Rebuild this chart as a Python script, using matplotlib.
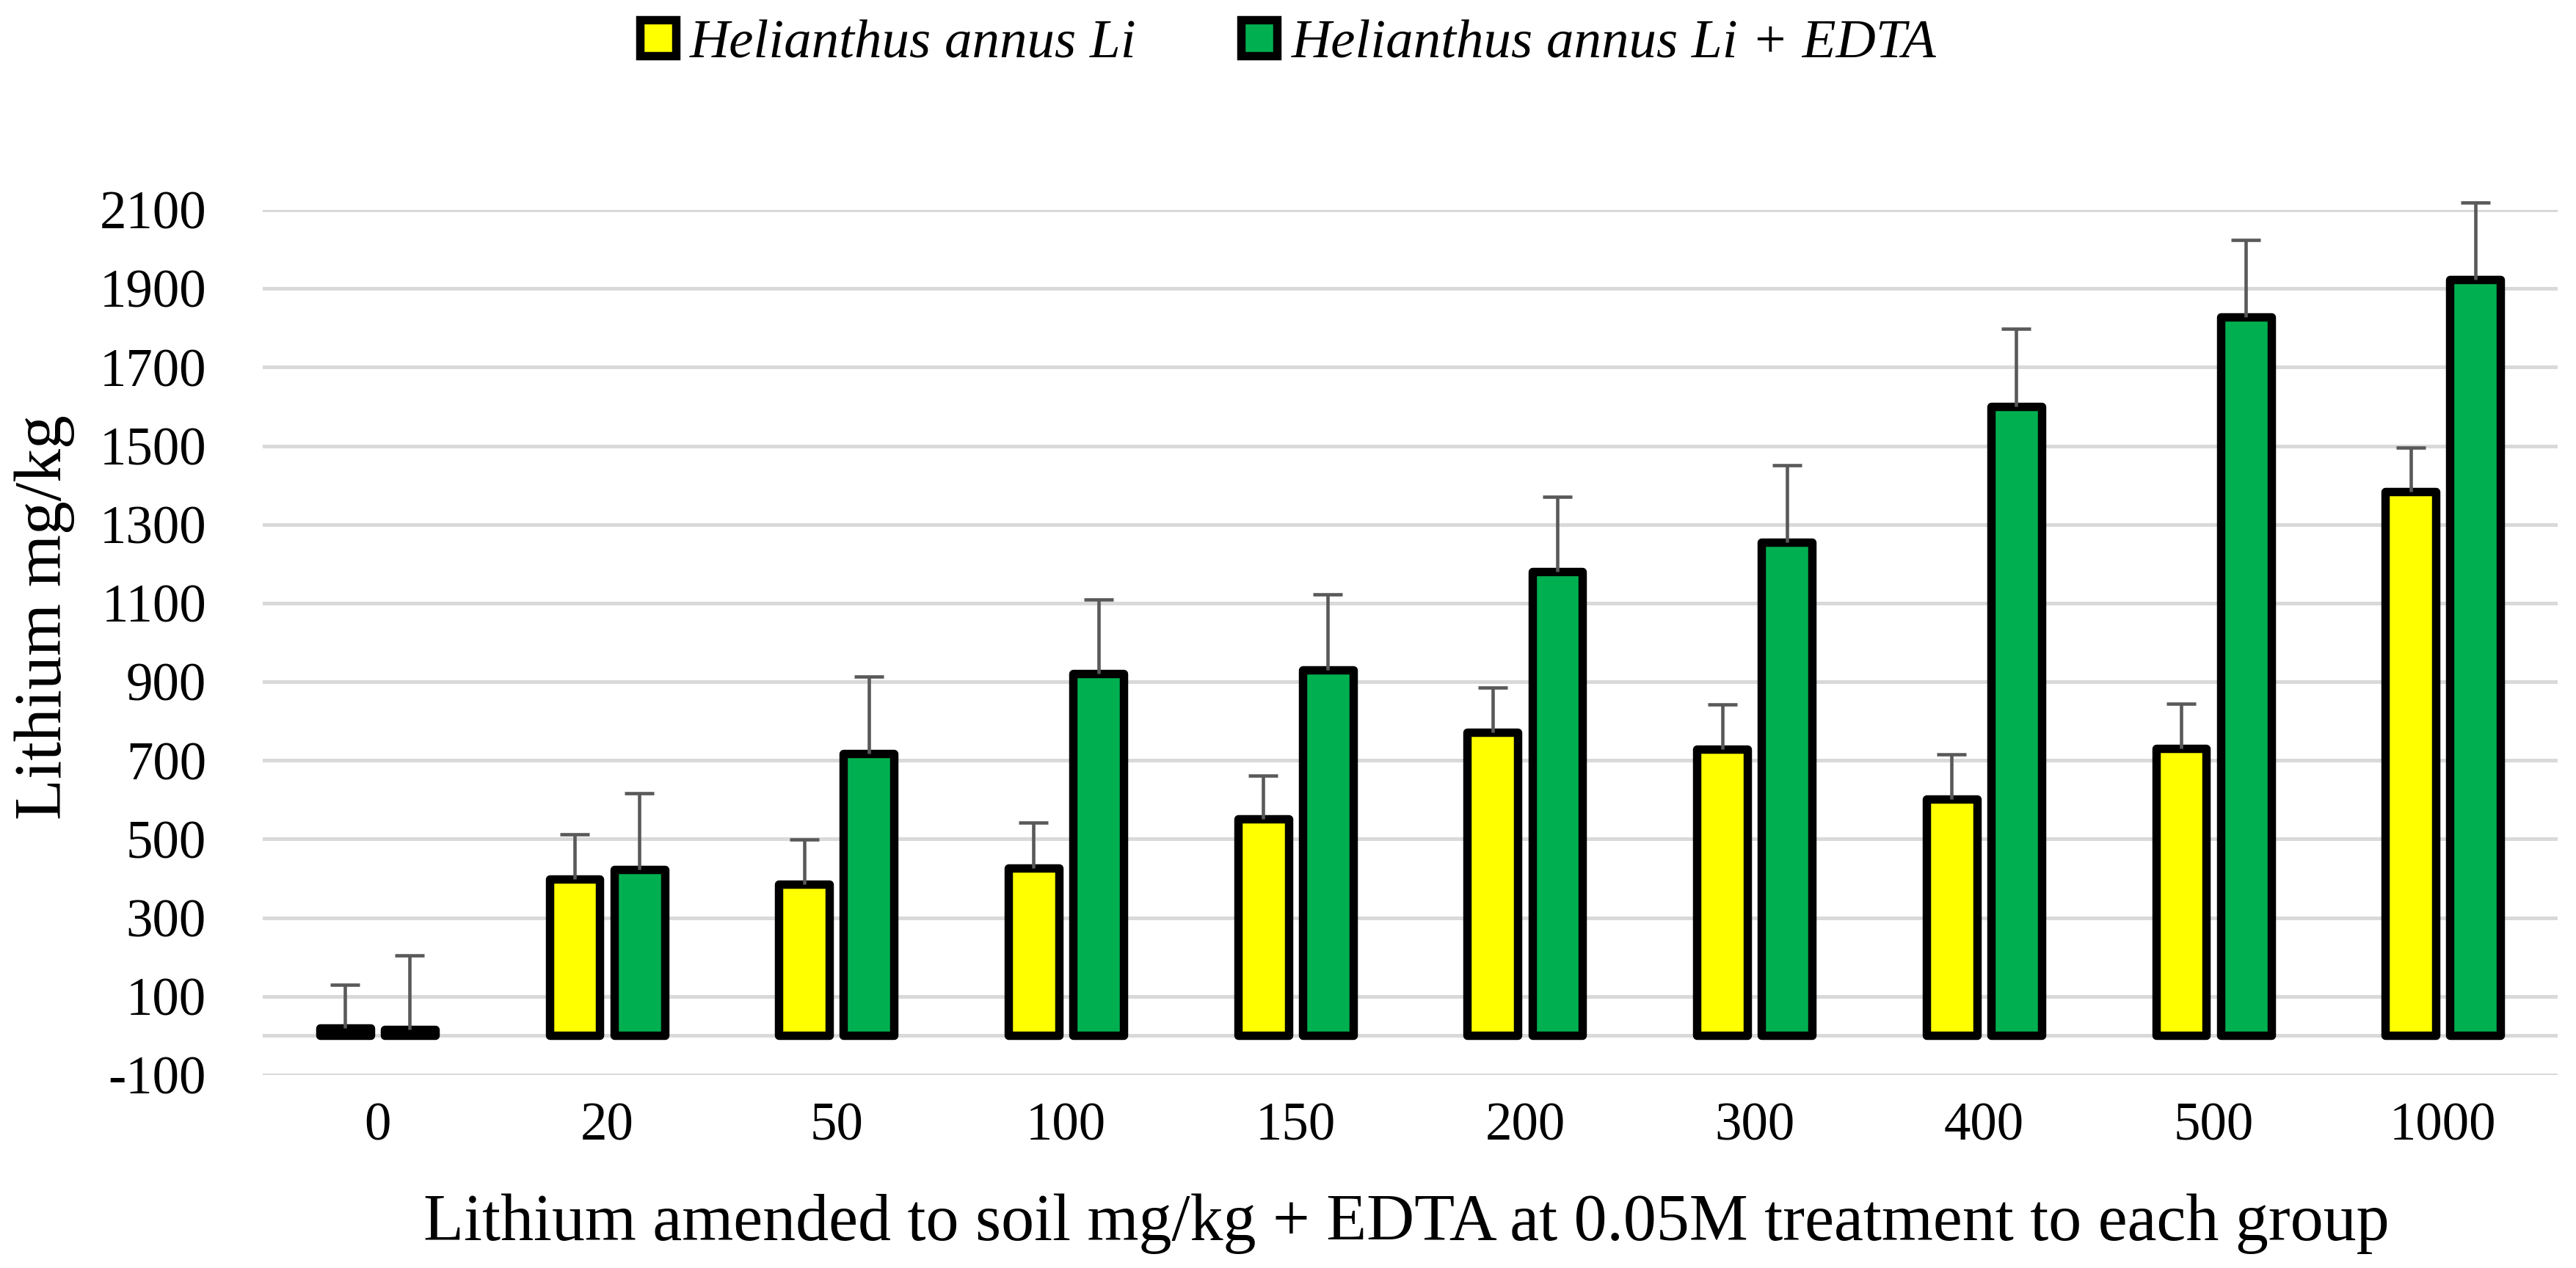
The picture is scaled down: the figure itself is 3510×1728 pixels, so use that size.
import matplotlib
matplotlib.use("Agg")
import matplotlib.pyplot as plt
import numpy as np

categories = ["0", "20", "50", "100", "150", "200", "300", "400", "500", "1000"]
li_values = [20, 399, 385, 426, 552, 772, 728, 601, 731, 1383]
li_err = [110, 113, 114, 115, 110, 113, 115, 115, 113, 113]
edta_values = [15, 422, 717, 920, 930, 1180, 1255, 1600, 1828, 1922]
edta_err = [190, 195, 197, 190, 193, 191, 196, 197, 195, 196]
series_names = ["Helianthus annus Li", "Helianthus annus Li + EDTA"]
yticks = list(range(-100, 2101, 200))

FONT = ["Liberation Serif", "DejaVu Serif"]
plt.rcParams["font.family"] = FONT

fig = plt.figure(figsize=(11.7, 5.76), dpi=300)
ax = fig.add_axes([0.102, 0.1522, 0.8909, 0.6823])

x = np.arange(len(categories))
w = 0.22
off = 0.141
edge_lw = 2.75

b1 = ax.bar(x - off, li_values, width=w, color="#FFFF00", edgecolor="black",
            linewidth=edge_lw, zorder=3, joinstyle="round", label=series_names[0])
b2 = ax.bar(x + off, edta_values, width=w, color="#00B050", edgecolor="black",
            linewidth=edge_lw, zorder=3, joinstyle="round", label=series_names[1])

for xs, vals, errs in [(x - off, li_values, li_err), (x + off, edta_values, edta_err)]:
    cont = ax.errorbar(xs, vals, yerr=[np.zeros(len(errs)), errs], fmt="none",
                       ecolor="#595959", elinewidth=1.1, capsize=4.7, capthick=1.1, zorder=4)
    _, caps, bars = cont
    if len(caps) >= 2:
        caps[0].set_visible(False)
    for c in caps:
        c.set_clip_on(False)
    for b in bars:
        b.set_clip_on(False)

ax.set_ylim(-100, 2100)
ax.set_xlim(-0.5, len(categories) - 0.5)
ax.set_yticks(yticks)
ax.set_yticklabels([str(t) for t in yticks])
ax.set_xticks(x)
ax.set_xticklabels(categories)
ax.yaxis.grid(True, color="#D9D9D9", linewidth=1.2, zorder=0)
ax.axhline(0, color="#D9D9D9", linewidth=1.2, zorder=1)
ax.set_axisbelow(True)
for s in ax.spines.values():
    s.set_visible(False)
ax.tick_params(axis="both", length=0, labelsize=17.5)
ax.tick_params(axis="y", pad=18.5)
ax.tick_params(axis="x", pad=9)

fig.text(0.0174, 0.513, "Lithium mg/kg", rotation=90, ha="center", va="center", fontsize=22)
fig.text(0.546, 0.035, "Lithium amended to soil mg/kg + EDTA at 0.05M treatment to each group",
         ha="center", va="center", fontsize=21.6)

leg = fig.legend(handles=[b1, b2], labels=series_names, loc="center",
                 bbox_to_anchor=(0.5, 0.965), ncol=2, frameon=False,
                 prop={"family": FONT, "style": "italic", "size": 18},
                 handlelength=0.65, handleheight=0.63, handletextpad=0.26,
                 columnspacing=1.9, borderpad=0)

fig.savefig("out.png", dpi=300)
